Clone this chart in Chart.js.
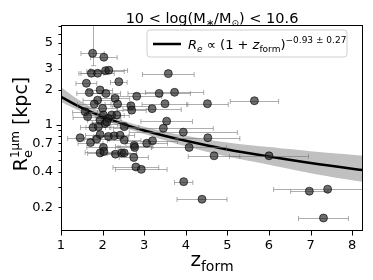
<!DOCTYPE html>
<html lang="en">
<head>
<meta charset="UTF-8">
<title>Re vs z_form</title>
<script src="https://cdn.jsdelivr.net/npm/chart.js@4.4.0/dist/chart.umd.min.js"></script>
<style>
  body { margin: 0; background: #fff; }
</style>
</head>
<body>
<canvas id="myChart" width="373" height="280"></canvas>
<script>
// galaxies: formation redshift, 1um effective radius (kpc), half width of z error bar
const zForm = [1.76, 2.03, 1.73, 1.88, 2.07, 2.15, 3.58, 1.61, 2.39, 1.68,
               1.94, 2.08, 1.88, 2.30, 2.82, 3.36, 3.73, 5.65, 4.52, 3.50,
               1.80, 2.36, 2.68, 2.70, 3.19, 1.58, 1.64, 2.00, 2.02, 2.22,
               2.34, 1.94, 2.06, 2.14, 3.54, 3.46, 3.94, 4.53, 1.77, 2.52,
               1.46, 1.71, 1.86, 1.94, 2.14, 2.28, 2.42, 2.52, 2.76, 2.77,
               3.06, 3.20, 2.02, 1.94, 2.03, 2.31, 2.46, 2.52, 2.75, 4.08,
               4.68, 6.00, 2.80, 2.93, 3.95, 4.39, 6.97, 7.41, 7.31, 2.10, 1.90];
const reSize = [4.08, 3.78, 2.76, 2.76, 2.90, 2.93, 2.74, 2.27, 2.34, 1.89,
                1.99, 1.86, 1.63, 1.69, 1.76, 1.86, 1.90, 1.61, 1.52, 1.52,
                1.51, 1.51, 1.46, 1.34, 1.38, 1.30, 1.18, 1.39, 1.22, 1.22,
                1.22, 1.10, 1.03, 1.14, 1.08, 0.94, 0.87, 0.78, 0.955, 0.97,
                0.78, 0.71, 0.76, 0.83, 0.80, 0.81, 0.82, 0.745, 0.67, 0.645,
                0.70, 0.735, 0.645, 0.58, 0.595, 0.566, 0.58, 0.58, 0.53, 0.645,
                0.548, 0.548, 0.44, 0.42, 0.33, 0.234, 0.274, 0.285, 0.162, 1.06, 0.97];
const zErr = [0.28, 0.32, 0.30, 0.40, 0.45, 0.45, 0.62, 0.25, 0.20, 0.30,
              0.30, 0.35, 0.35, 0.35, 0.60, 0.75, 0.70, 0.58, 0.50, 0.55,
              0.40, 0.30, 0.45, 0.35, 0.70, 0.30, 0.35, 0.35, 0.40, 0.30,
              0.30, 0.30, 0.30, 0.30, 0.62, 1.20, 1.30, 0.77, 0.30, 0.35,
              0.30, 0.30, 0.30, 0.35, 0.35, 0.35, 0.35, 0.40, 0.45, 0.40,
              0.50, 0.60, 0.40, 0.30, 0.45, 0.35, 0.35, 0.30, 0.35, 0.90,
              0.62, 0.95, 0.55, 0.62, 0.22, 0.60, 0.45, 1.30, 0.60, 0.35, 0.30];
// only the first galaxy has a visible size error bar (low, high in kpc)
const firstReErr = [3.2, 12];

// power-law fit and its band
const fitZ   = [1,    1.5,  2,    2.5,  3,    4,     5,    6,    7,     8,     8.26];
const fitRe  = [1.74, 1.40, 1.18, 1.02, 0.90, 0.735, 0.62, 0.54, 0.475, 0.425, 0.414];
const bandHi = [2.10, 1.58, 1.28, 1.09, 0.97, 0.81,  0.71, 0.65, 0.60,  0.56,  0.55];
const bandLo = [1.57, 1.30, 1.11, 0.96, 0.84, 0.66,  0.54, 0.46, 0.39,  0.34,  0.33];

const xTicks = [1, 2, 3, 4, 5, 6, 7, 8];
const yTickLabels = [0.2, 0.4, 0.7, 1, 2, 3, 5];
const yAllTicks = [0.2, 0.3, 0.4, 0.5, 0.6, 0.7, 0.8, 0.9, 1, 2, 3, 4, 5, 6, 7];

const fam = '"DejaVu Sans", sans-serif';
function runFont(r) { return (r.i ? 'italic ' : '') + r.s + 'px ' + fam; }
function runsWidth(ctx, runs) {
    let w = 0;
    for (const r of runs) { ctx.font = runFont(r); if (!r.k) w += ctx.measureText(r.t).width; }
    return w;
}
function drawRuns(ctx, runs, x, y) {
    let cx = x;
    for (const r of runs) {
        ctx.font = runFont(r);
        ctx.fillText(r.t, cx, y + (r.dy || 0));
        if (!r.k) cx += ctx.measureText(r.t).width;
    }
}

const points = zForm.map((z, i) => ({ x: z, y: reSize[i] }));

const decorations = {
    id: 'decorations',
    beforeDatasetDraw(chart, args) {
        if (args.index !== 3) return;
        const ctx = chart.ctx, xs = chart.scales.x, ys = chart.scales.y;
        const a = chart.chartArea;
        ctx.save();
        ctx.beginPath();
        ctx.rect(a.left, a.top, a.right - a.left, a.bottom - a.top);
        ctx.clip();
        ctx.strokeStyle = 'rgba(120,120,120,0.6)';
        ctx.lineWidth = 1;
        zForm.forEach((z, i) => {
            const py = Math.round(ys.getPixelForValue(reSize[i])) + 0.5;
            const x0 = xs.getPixelForValue(z - zErr[i]);
            const x1 = xs.getPixelForValue(z + zErr[i]);
            ctx.beginPath();
            ctx.moveTo(x0, py); ctx.lineTo(x1, py);
            ctx.moveTo(x0, py - 2.5); ctx.lineTo(x0, py + 2.5);
            ctx.moveTo(x1, py - 2.5); ctx.lineTo(x1, py + 2.5);
            ctx.stroke();
        });
        const px = Math.round(xs.getPixelForValue(zForm[0])) + 0.5;
        ctx.beginPath();
        ctx.moveTo(px, ys.getPixelForValue(firstReErr[0]));
        ctx.lineTo(px, ys.getPixelForValue(firstReErr[1]));
        ctx.moveTo(px - 2.5, ys.getPixelForValue(firstReErr[0]));
        ctx.lineTo(px + 2.5, ys.getPixelForValue(firstReErr[0]));
        ctx.stroke();
        ctx.restore();
    },
    afterDraw(chart) {
        const ctx = chart.ctx, xs = chart.scales.x, ys = chart.scales.y;
        const a = chart.chartArea;
        ctx.save();
        // frame and ticks
        ctx.strokeStyle = '#000';
        ctx.lineWidth = 1;
        ctx.strokeRect(Math.round(a.left) + 0.5, Math.round(a.top) + 0.5,
                       Math.round(a.right - a.left) - 1, Math.round(a.bottom - a.top) - 1);
        ctx.beginPath();
        xTicks.forEach(v => {
            const p = Math.round(xs.getPixelForValue(v)) + 0.5;
            ctx.moveTo(p, a.bottom); ctx.lineTo(p, a.bottom + 4.5);
        });
        yAllTicks.forEach(v => {
            const p = Math.round(ys.getPixelForValue(v)) + 0.5;
            const len = v === 1 ? 4.5 : 2.5;
            ctx.moveTo(a.left, p); ctx.lineTo(a.left - len, p);
        });
        ctx.stroke();

        ctx.fillStyle = '#000';
        ctx.textBaseline = 'alphabetic';
        // title
        const title = [{t: '10 < log(M', s: 14.5}, {t: '\u2217', s: 10, dy: 3}, {t: '/M', s: 14.5},
                       {t: '\u2299', s: 9, dy: 3}, {t: ') < 10.6', s: 14.5}];
        drawRuns(ctx, title, (a.left + a.right) / 2 - runsWidth(ctx, title) / 2, 23);

        // x label
        const xl = [{t: 'z', s: 20}, {t: 'form', s: 14, dy: 5}];
        drawRuns(ctx, xl, (a.left + a.right) / 2 - runsWidth(ctx, xl) / 2, 266);

        // y label
        const yl = [{t: 'R', s: 19}, {t: 'e', s: 13, dy: 5, k: 1}, {t: '1\u03bcm', s: 12, dy: -8}, {t: ' [kpc]', s: 19}];
        ctx.save();
        ctx.translate(27, 124);
        ctx.rotate(-Math.PI / 2);
        drawRuns(ctx, yl, -runsWidth(ctx, yl) / 2, 0);
        ctx.restore();

        // legend box
        const bx = 147, by = 30, bw = 200, bh = 27, rr = 3;
        ctx.beginPath();
        ctx.moveTo(bx + rr, by);
        ctx.arcTo(bx + bw, by, bx + bw, by + bh, rr);
        ctx.arcTo(bx + bw, by + bh, bx, by + bh, rr);
        ctx.arcTo(bx, by + bh, bx, by, rr);
        ctx.arcTo(bx, by, bx + bw, by, rr);
        ctx.closePath();
        ctx.fillStyle = 'rgba(255,255,255,0.85)';
        ctx.fill();
        ctx.strokeStyle = '#d0d0d0';
        ctx.stroke();
        ctx.strokeStyle = '#000';
        ctx.lineWidth = 2.5;
        ctx.beginPath();
        ctx.moveTo(153, 44); ctx.lineTo(181, 44);
        ctx.stroke();
        ctx.fillStyle = '#000';
        const lg = [{t: 'R', s: 13, i: 1}, {t: 'e', s: 9, i: 1, dy: 3}, {t: ' \u221d (1 + ', s: 13},
                    {t: 'z', s: 13, i: 1}, {t: 'form', s: 9, dy: 3}, {t: ')', s: 13},
                    {t: '\u22120.93 \u00b1 0.27', s: 9, dy: -6}];
        drawRuns(ctx, lg, 188, 49);
        ctx.restore();
    }
};

const ctx = document.getElementById('myChart').getContext('2d');
new Chart(ctx, {
    data: {
        datasets: [
            {
                type: 'line', label: 'band hi',
                data: fitZ.map((z, i) => ({ x: z, y: bandHi[i] })),
                borderWidth: 0, pointRadius: 0, fill: '+1',
                backgroundColor: 'rgba(150,150,150,0.6)', tension: 0.4, order: 4
            },
            {
                type: 'line', label: 'band lo',
                data: fitZ.map((z, i) => ({ x: z, y: bandLo[i] })),
                borderWidth: 0, pointRadius: 0, fill: false, tension: 0.4, order: 4
            },
            {
                type: 'line', label: 'fit',
                data: fitZ.map((z, i) => ({ x: z, y: fitRe[i] })),
                borderColor: '#000', borderWidth: 2.5, pointRadius: 0,
                fill: false, cubicInterpolationMode: 'monotone', order: 3
            },
            {
                type: 'scatter', label: 'galaxies',
                data: points,
                backgroundColor: 'rgba(30,30,30,0.65)',
                borderColor: 'rgba(0,0,0,0.6)', borderWidth: 1,
                pointRadius: 4, order: 1
            }
        ]
    },
    options: {
        responsive: false,
        animation: false,
        devicePixelRatio: 1,
        layout: { padding: { top: 25, right: 10, left: 0, bottom: 0 } },
        plugins: { legend: { display: false }, title: { display: false }, tooltip: { enabled: false } },
        scales: {
            x: {
                type: 'linear', min: 1, max: 8.26,
                afterBuildTicks: s => { s.ticks = xTicks.map(v => ({ value: v })); },
                afterFit: s => { s.height = 49; },
                grid: { display: false, drawTicks: false },
                border: { display: false },
                ticks: { color: '#000', font: { family: fam, size: 13 }, padding: 7, maxRotation: 0 }
            },
            y: {
                type: 'logarithmic', min: 0.1256, max: 7.1,
                afterBuildTicks: s => { s.ticks = yAllTicks.map(v => ({ value: v })); },
                afterFit: s => { s.width = 61; },
                grid: { display: false, drawTicks: false },
                border: { display: false },
                ticks: {
                    color: '#000', font: { family: fam, size: 13 }, padding: 8, autoSkip: false,
                    callback: v => yTickLabels.includes(v) ? String(v) : ''
                }
            }
        }
    },
    plugins: [decorations]
});
</script>
</body>
</html>
